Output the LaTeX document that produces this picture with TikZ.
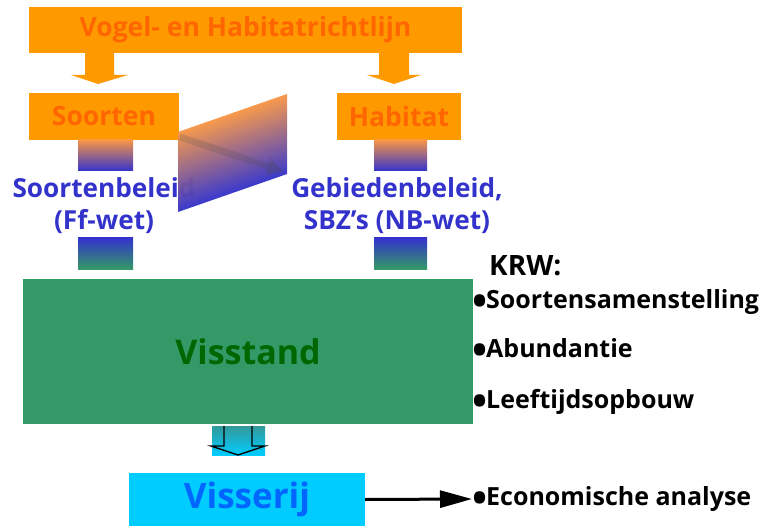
\documentclass[tikz,border=0pt]{standalone}
\usepackage{fontspec}
\setmainfont{Open Sans}
\usetikzlibrary{arrows.meta}
\definecolor{boxorange}{HTML}{FF9900}
\definecolor{txtorange}{HTML}{FF6600}
\definecolor{gradorange}{RGB}{247,150,70}
\definecolor{gradpink}{RGB}{185,105,155}
\definecolor{lawblue}{HTML}{3333CC}
\definecolor{fishgreen}{HTML}{339966}
\definecolor{txtgreen}{HTML}{006600}
\definecolor{fishcyan}{HTML}{00CCFF}
\definecolor{txtcyan}{HTML}{0066FF}
\definecolor{tealtop}{HTML}{339999}
\newcommand{\bul}{\makebox[14pt][l]{\raisebox{-0.28em}{\scalebox{1.6}{•}}}}
\tikzset{
  box/.style={inner sep=0pt, outer sep=0pt, anchor=north west},
  orangetxt/.style={text=txtorange, font=\bfseries\fontsize{26.5}{30}\selectfont},
  policy/.style={text=lawblue, font=\bfseries\fontsize{26.2}{32}\selectfont, align=center},
  listtxt/.style={text=black, font=\bfseries\fontsize{25}{28}\selectfont, anchor=west, inner sep=0pt},
}
\begin{document}
\begin{tikzpicture}[x=1pt,y=-1pt]
\useasboundingbox (0,0) rectangle (759,526);

% top directive bar
\node[box, fill=boxorange, minimum width=433pt, minimum height=46pt] (vhr) at (29,7) {};
\node[orangetxt] at (vhr.center) {Vogel- en Habitatrichtlijn};

% block arrows down to the two pillars
\fill[boxorange] (85,53) -- (114,53) -- (114,75) -- (128,75) -- (98,84) -- (71,75) -- (85,75) -- cycle;
\fill[boxorange] (379,53) -- (409,53) -- (409,75) -- (421,75) -- (394,84) -- (367,75) -- (379,75) -- cycle;

% pillars
\node[box, fill=boxorange, minimum width=150pt, minimum height=47pt] (soort) at (29,93) {};
\node[orangetxt] at (soort.center) {Soorten};
\node[box, fill=boxorange, minimum width=124pt, minimum height=47pt] (hab) at (337,93) {};
\node[orangetxt] at (hab.center) {Habitat};

% gradient links to the policy texts
\shade[top color=gradorange, bottom color=lawblue] (78,140) rectangle (133,171);
\shade[top color=gradorange, bottom color=lawblue] (374,140) rectangle (427,171);

% policy texts
\node[policy] (sbel) at (104,206) {Soortenbeleid\\(Ff-wet)};
\node[policy] (gbel) at (397,206) {Gebiedenbeleid,\\SBZ’s (NB-wet)};

% slanted panel between the pillars, its gradient following the slant
\begin{scope}[transform canvas={shift={(178,132)}, yslant=0.3486}]
  \shade[top color=gradorange, middle color=gradpink, bottom color=lawblue, opacity=0.97]
    (0,0) rectangle (109,80);
\end{scope}
\draw[black!70, opacity=0.2, line width=7pt, -{Triangle[width=18pt,length=18pt]}]
  (180,137) -- (285,172);

% gradient links to the fish stock
\shade[top color=lawblue, bottom color=fishgreen] (78,238) rectangle (133,269);
\shade[top color=lawblue, bottom color=fishgreen] (374,238) rectangle (427,269);

% fish stock
\node[box, fill=fishgreen, minimum width=450pt, minimum height=145pt] (vis) at (23,279) {};
\node[text=txtgreen, font=\bfseries\fontsize{34}{36}\selectfont] at (248,352) {Visstand};

% arrow down to fisheries
\shade[top color=tealtop, bottom color=fishcyan] (212,426) rectangle (265,455);
\draw[black, line width=1.3pt, line join=miter]
  (224,426) -- (224,446) -- (211,446) -- (238,455) -- (265,446) -- (252,446) -- (252,426);

% fisheries
\node[box, fill=fishcyan, minimum width=236pt, minimum height=53pt] (vrij) at (129,473) {};
\node[text=txtcyan, font=\bfseries\fontsize{35}{38}\selectfont] at (vrij.center) {Visserij};

% KRW list
\node[listtxt, font=\bfseries\fontsize{28}{30}\selectfont] (krw) at (489,266) {KRW:};
\node[listtxt] (l1) at (472,303) {\bul Soortensamenstelling};
\node[listtxt] (l2) at (472,352) {\bul Abundantie};
\node[listtxt] (l3) at (472,402) {\bul Leeftijdsopbouw};
\node[listtxt] (eco) at (472,499) {\bul Economische analyse};

\draw[black, line width=3pt, -{Triangle[width=17pt,length=32pt]}] (vrij.east) -- (eco.west);
\end{tikzpicture}
\end{document}
